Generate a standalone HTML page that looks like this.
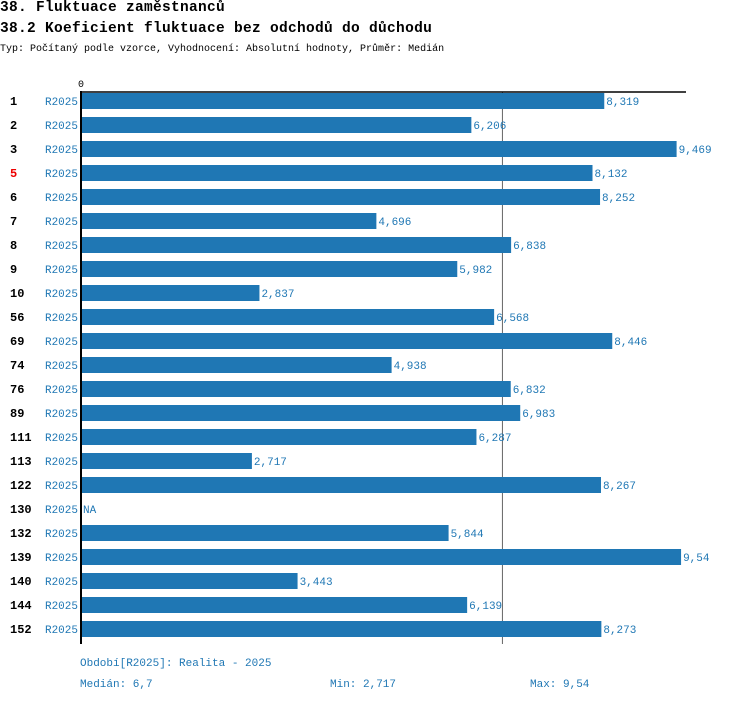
<!DOCTYPE html>
<html><head><meta charset="utf-8"><style>
body{margin:0;background:#fff;width:750px;height:704px;overflow:hidden;font-family:"Liberation Mono","DejaVu Sans Mono",monospace}
.t{position:absolute;white-space:nowrap}
</style></head><body>
<div class="t" style="left:0;top:0;font-size:14.5px;font-weight:bold;letter-spacing:0.3px">38. Fluktuace zaměstnanců</div>
<div class="t" style="left:0;top:21px;font-size:14.5px;font-weight:bold;letter-spacing:0.3px">38.2 Koeficient fluktuace bez odchodů do důchodu</div>
<div class="t" style="left:0;top:44px;font-size:10px;letter-spacing:0px">Typ: Počítaný podle vzorce, Vyhodnocení: Absolutní hodnoty, Průměr: Medián</div>
<svg id="c" width="750" height="704" style="position:absolute;left:0;top:0"></svg>
<div class="t" style="left:80px;top:658px;font-size:11px;color:#1f77b4">Období[R2025]: Realita - 2025</div>
<div class="t" style="left:80px;top:679px;font-size:11px;color:#1f77b4">Medián: 6,7</div>
<div class="t" style="left:330px;top:679px;font-size:11px;color:#1f77b4">Min: 2,717</div>
<div class="t" style="left:530px;top:679px;font-size:11px;color:#1f77b4">Max: 9,54</div>
<script>
const categories=["1","2","3","5","6","7","8","9","10","56","69","74","76","89","111","113","122","130","132","139","140","144","152"];
const values=[8.319,6.206,9.469,8.132,8.252,4.696,6.838,5.982,2.837,6.568,8.446,4.938,6.832,6.983,6.287,2.717,8.267,null,5.844,9.54,3.443,6.139,8.273];
const highlighted=["5"];
const median=6.7;
const NS="http://www.w3.org/2000/svg";
const svg=document.getElementById('c');
const x0=81,scale=62.9;
const xs=v=>x0+v*scale;
const ys=i=>93+i*24;
function mk(tag,attrs,txt){const e=document.createElementNS(NS,tag);for(const k in attrs)e.setAttribute(k,attrs[k]);if(txt!=null)e.textContent=txt;svg.appendChild(e);return e;}
let e;
e=mk('line',{x1:xs(median),x2:xs(median),y1:92,y2:644,stroke:'#666','stroke-width':1});


categories.forEach((c,i)=>{
  const y=ys(i),v=values[i];
  e=mk('text',{x:10,y:y+12,'font-size':12,'font-weight':'bold','font-family':'Liberation Mono, monospace',fill:highlighted.includes(c)?'#e00':'#000'},c);
  
  
  e=mk('text',{x:78,y:y+12,'font-size':11,'text-anchor':'end','font-family':'Liberation Mono, monospace',fill:'#1f77b4'},'R2025');
  
  
  if(v!=null){
    e=mk('rect',{x:xs(0),y:y,width:xs(v)-xs(0),height:16,fill:'#1f77b4'});
    
    
  }
  const s=v==null?'NA':String(v).replace('.',',');
  e=mk('text',{x:xs(v||0)+2,y:y+12,'font-size':11,'font-family':'Liberation Mono, monospace',fill:'#1f77b4'},s);
  
  
});
e=mk('line',{x1:80,x2:686,y1:92,y2:92,stroke:'#000','stroke-width':1.5});


e=mk('line',{x1:81,x2:81,y1:91,y2:644,stroke:'#000','stroke-width':2});


e=mk('text',{x:78,y:87,'font-size':10,'font-family':'Liberation Mono, monospace',fill:'#000'},'0');


</script>
</body></html>
